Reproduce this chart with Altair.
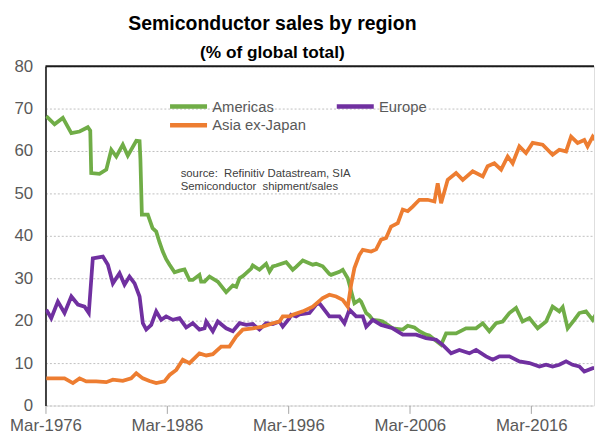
import altair as alt
import pandas as pd

# ---- data (decimal year, % of global total) ----
am_year = [1976.23, 1976.91, 1977.59, 1978.29, 1978.97, 1979.65, 1979.85, 1979.93, 1980.61, 1981.17,
           1981.58, 1981.99, 1982.53, 1982.94, 1983.64, 1983.91, 1983.98, 1984.10, 1984.59, 1984.98,
           1985.28, 1985.55, 1985.82, 1986.10, 1986.38, 1986.79, 1987.20, 1987.61, 1988.02, 1988.29,
           1988.84, 1988.98, 1989.26, 1989.67, 1990.35, 1991.04, 1991.59, 1991.87, 1992.14, 1992.41,
           1992.69, 1993.10, 1993.23, 1993.78, 1994.33, 1994.61, 1994.88, 1995.16, 1995.98, 1996.52,
           1996.80, 1997.35, 1998.17, 1998.45, 1998.99, 1999.54, 1999.68, 2000.37, 2000.64, 2001.05,
           2001.19, 2001.60, 2002.01, 2002.15, 2002.57, 2002.84, 2003.11, 2003.66, 2003.93, 2004.75,
           2005.58, 2005.99, 2006.54, 2006.95, 2007.50, 2007.77, 2008.74, 2009.15, 2009.97, 2010.79,
           2011.62, 2012.17, 2012.71, 2013.26, 2013.81, 2014.36, 2014.91, 2015.45, 2016.01, 2016.69,
           2017.38, 2017.92, 2018.47, 2018.75, 2019.16, 2019.71, 2020.12, 2020.67, 2021.22, 2021.91]
am_val = [68.2, 66.3, 67.8, 64.2, 64.6, 65.6, 64.8, 54.8, 54.6, 55.6,
          60.3, 58.7, 61.5, 58.9, 62.4, 62.3, 58.0, 45.0, 45.0, 41.8,
          41.0, 38.5, 36.3, 34.5, 33.2, 31.4, 31.8, 32.1, 29.6, 29.6,
          30.8, 29.2, 29.2, 30.4, 29.2, 26.7, 28.3, 28.0, 30.0, 30.5,
          31.2, 32.3, 33.0, 32.0, 33.4, 31.6, 32.8, 33.0, 33.8, 32.0,
          32.7, 34.2, 33.2, 33.4, 32.8, 31.0, 30.8, 31.5, 32.0, 30.0,
          28.5, 24.1, 24.9, 24.5, 21.8, 21.2, 20.2, 20.0, 19.8, 18.2,
          17.9, 18.8, 18.4, 17.5, 16.7, 16.5, 14.3, 17.0, 17.0, 18.2,
          18.2, 19.4, 17.5, 19.4, 19.8, 21.8, 23.0, 19.8, 20.6, 18.2,
          19.8, 23.3, 22.2, 23.2, 18.2, 20.2, 21.8, 22.2, 20.2, 23.7]

eu_year = [1976.23, 1976.64, 1977.18, 1977.73, 1978.29, 1978.83, 1979.38, 1979.73, 1980.06, 1980.89,
           1981.30, 1981.71, 1982.26, 1982.67, 1983.08, 1983.50, 1983.91, 1984.18, 1984.46, 1984.87,
           1985.28, 1985.69, 1986.10, 1986.65, 1987.20, 1987.75, 1988.29, 1988.84, 1989.26, 1989.40,
           1989.94, 1990.35, 1991.04, 1991.59, 1992.14, 1992.69, 1993.23, 1993.78, 1994.33, 1994.88,
           1995.43, 1995.70, 1996.25, 1996.39, 1996.80, 1997.08, 1997.90, 1998.45, 1998.72, 1999.54,
           2000.37, 2000.78, 2001.19, 2001.74, 2002.29, 2002.57, 2003.11, 2003.80, 2004.75, 2005.58,
           2006.68, 2007.50, 2008.33, 2008.87, 2009.56, 2010.24, 2011.07, 2011.62, 2012.44, 2012.99,
           2013.54, 2014.36, 2015.18, 2016.01, 2016.83, 2017.38, 2017.92, 2018.47, 2019.03, 2019.57,
           2020.12, 2020.53, 2021.22, 2021.91]
eu_val = [22.6, 20.6, 24.5, 21.8, 25.7, 23.8, 23.3, 21.8, 34.7, 35.1,
          33.2, 28.8, 31.2, 28.5, 30.4, 28.8, 25.7, 19.4, 17.9, 19.0,
          22.2, 20.2, 21.0, 20.2, 20.6, 18.4, 19.4, 17.9, 18.2, 19.8,
          17.5, 19.8, 18.2, 17.5, 19.4, 19.0, 19.2, 17.9, 19.4, 19.2,
          19.8, 18.6, 20.6, 21.4, 21.0, 21.5, 21.8, 23.8, 24.1, 21.0,
          21.0, 19.4, 22.6, 21.0, 21.0, 18.6, 20.2, 19.0, 18.2, 16.7,
          16.7, 15.9, 15.5, 14.3, 12.3, 13.1, 12.3, 13.1, 11.6, 10.8,
          11.6, 11.6, 10.4, 10.0, 9.2, 9.6, 9.2, 9.6, 10.4, 9.6,
          9.2, 8.0, 8.8, 8.8]

as_year = [1976.23, 1977.05, 1977.73, 1978.42, 1978.97, 1979.52, 1980.34, 1981.17, 1981.71, 1982.53,
           1983.22, 1983.64, 1984.18, 1984.73, 1985.28, 1985.96, 1986.38, 1986.93, 1987.47, 1988.02,
           1988.84, 1989.40, 1989.94, 1990.63, 1991.31, 1991.87, 1992.41, 1993.23, 1994.05, 1994.88,
           1995.43, 1995.70, 1996.25, 1996.52, 1997.35, 1998.17, 1998.99, 1999.54, 2000.10, 2000.64,
           2001.05, 2001.33, 2001.60, 2002.01, 2002.29, 2002.98, 2003.39, 2003.80, 2004.21, 2004.62,
           2005.17, 2005.58, 2005.99, 2006.40, 2006.95, 2007.63, 2008.19, 2008.46, 2008.74, 2009.28,
           2009.97, 2010.52, 2011.34, 2012.17, 2012.57, 2013.12, 2013.68, 2014.22, 2014.63, 2015.18,
           2015.73, 2016.28, 2017.10, 2017.92, 2018.47, 2019.03, 2019.44, 2019.98, 2020.53, 2020.80,
           2021.22, 2021.63, 2021.99]
as_val = [6.4, 6.4, 6.4, 5.3, 6.4, 5.7, 5.7, 5.5, 6.1, 5.8,
          6.4, 7.6, 6.4, 5.8, 5.3, 5.7, 7.2, 8.4, 10.8, 10.0,
          12.3, 11.8, 12.1, 13.9, 13.9, 16.3, 17.9, 18.2, 18.6, 19.4,
          19.8, 21.0, 21.0, 21.4, 22.2, 23.3, 25.3, 26.1, 25.7, 24.9,
          23.3, 28.5, 32.4, 35.5, 36.7, 36.3, 36.8, 39.1, 39.5, 42.2,
          43.0, 46.2, 45.8, 46.9, 48.5, 48.5, 48.1, 52.4, 47.7, 53.2,
          54.8, 53.2, 55.2, 54.0, 56.4, 57.1, 55.6, 58.7, 57.1, 61.1,
          59.5, 61.9, 61.5, 59.1, 60.3, 59.9, 63.4, 61.9, 62.6, 61.1,
          63.4, 61.9, 59.9]

regions = ["Americas", "Europe", "Asia ex-Japan"]
colors = ["#70AD47", "#7030A0", "#ED7D31"]
x_tick_years = [1976, 1986, 1996, 2006, 2016]
y_ticks = [0, 10, 20, 30, 40, 50, 60, 70, 80]
source_text = "source:\u00a0 Refinitiv Datastream, SIA\nSemiconductor\u00a0 shipment/sales"


def to_date(y):
    yr = int(y)
    return pd.Timestamp(year=yr, month=1, day=1) + pd.Timedelta(days=(y - yr) * 365.25)


rows = []
for name, ys, vs in [("Americas", am_year, am_val), ("Europe", eu_year, eu_val),
                     ("Asia ex-Japan", as_year, as_val)]:
    for y, v in zip(ys, vs):
        rows.append({"date": to_date(y), "value": v, "region": name})
df = pd.DataFrame(rows)

FONT = "Liberation Sans"

x_enc = alt.X(
    "date:T",
    scale=alt.Scale(domain=[alt.DateTime(year=1976, month=3, date=1),
                            alt.DateTime(year=2021, month=5, date=1)]),
    axis=alt.Axis(values=[alt.DateTime(year=y, month=3, date=1) for y in x_tick_years],
                  format="%b-%Y", title=None, grid=False, domain=False,
                  ticks=True, tickColor="#a6a6a6", tickSize=8, labelPadding=4,
                  labelFont=FONT, labelFontSize=17, labelColor="#595959",
                  labelFlush=False, labelOverlap=False),
)
y_enc = alt.Y(
    "value:Q",
    scale=alt.Scale(domain=[0, 80], nice=False, zero=True),
    axis=alt.Axis(values=y_ticks, title=None, grid=True, gridColor="#bfbfbf",
                  gridDash=[2, 2], gridWidth=1, domain=True, domainColor="#404040",
                  domainWidth=2, ticks=False, labelPadding=13, labelFont=FONT,
                  labelFontSize=17, labelColor="#595959", minExtent=38, maxExtent=38),
)

lines = alt.Chart(df).mark_line(strokeWidth=3.8, clip=True).encode(
    x=x_enc,
    y=y_enc,
    color=alt.Color("region:N", scale=alt.Scale(domain=regions, range=colors),
                    legend=alt.Legend(orient="none", legendX=135, legendY=31, columns=2,
                                      direction="horizontal",
                                      values=regions, title=None,
                                      symbolType="M-2.5,0H2.5", symbolSize=225,
                                      symbolStrokeWidth=4.5, labelFont=FONT,
                                      labelFontSize=15, labelColor="#595959",
                                      columnPadding=21, rowPadding=-4, labelOffset=14)),
    order=alt.Order("date:T"),
)

top_rule = alt.Chart(pd.DataFrame({"v": [80]})).mark_rule(
    color="#1a1a1a", strokeWidth=2).encode(y=alt.Y("v:Q"))

source = alt.Chart(pd.DataFrame({"t": [source_text]})).mark_text(
    align="left", baseline="top", font=FONT, fontSize=11.5, color="#404040",
    lineBreak="\n", lineHeight=14).encode(
    x=alt.value(137), y=alt.value(103), text="t:N")

chart = alt.layer(lines, top_rule, source).properties(
    width=595,
    height=431,
    autosize=alt.AutoSizeParams(type="fit", contains="padding"),
    padding={"left": 0, "top": 3, "right": 0, "bottom": 3},
    title=alt.TitleParams(
        text="Semiconductor sales by region",
        subtitle="(%  of global total)",
        font=FONT, subtitleFont=FONT, fontSize=19.7, subtitleFontSize=17.5,
        fontWeight="bold", subtitleFontWeight="bold", color="black",
        subtitleColor="black", anchor="middle", frame="group", dx=-48,
        subtitlePadding=10, offset=-4),
).configure_view(stroke=None).configure(background="white")

chart.save("out.html", embed_options={"renderer": "svg", "actions": False})
